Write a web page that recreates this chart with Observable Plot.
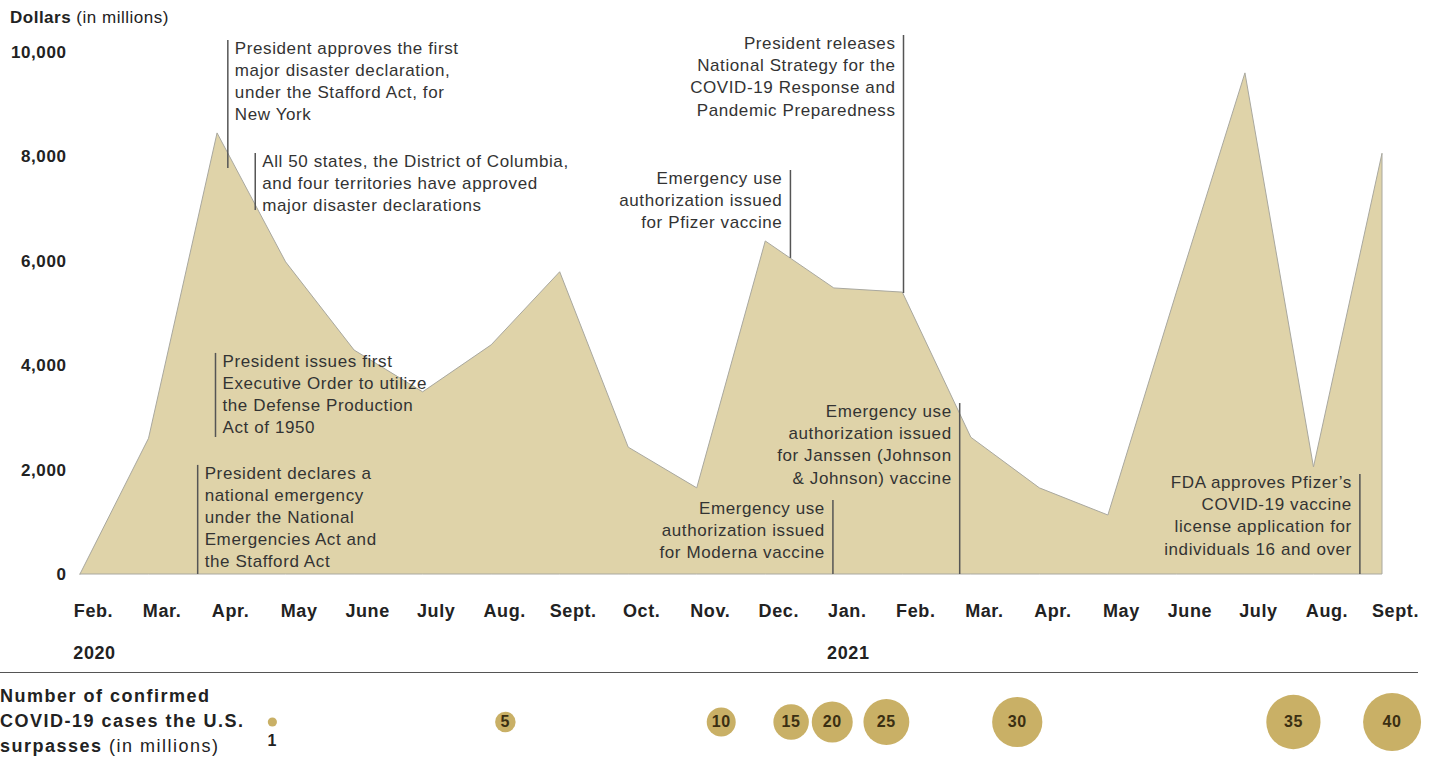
<!DOCTYPE html>
<html>
<head>
<meta charset="utf-8">
<script src="https://cdn.jsdelivr.net/npm/d3@7"></script>
<script src="https://cdn.jsdelivr.net/npm/@observablehq/plot@0.6"></script>
<style>
  body { margin: 0; background: #fff; font-family: "Liberation Sans", Arial, sans-serif; }
  #wrap { position: relative; width: 1432px; height: 763px; overflow: hidden; }
  #main, #bubbles { position: absolute; left: 0; }
  #main { top: 0; }
  #bubbles { top: 680px; }
  #wrap svg text { letter-spacing: 0.6px; }
  #ylab { position: absolute; left: 10px; top: 8px; font-size: 17px; color: #222; letter-spacing: 0.5px; }
  #rule { position: absolute; left: 0; top: 672px; width: 1418px; border-top: 1.5px solid #555; }
  #caseLabel { position: absolute; left: 0; top: 684px; font-size: 18px; line-height: 25px; color: #222; letter-spacing: 1.5px; }
</style>
</head>
<body>
<div id="wrap">
  <div id="main"></div>
  <div id="bubbles"></div>
  <div id="ylab"><b>Dollars</b> (in millions)</div>
  <div id="rule"></div>
  <div id="caseLabel"><b>Number of confirmed<br>COVID-19 cases the U.S.<br>surpasses</b> (in millions)</div>
</div>
<script>
// ---- data ----
const monthLabels = ["Feb.","Mar.","Apr.","May","June","July","Aug.","Sept.","Oct.","Nov.","Dec.","Jan.","Feb.","Mar.","Apr.","May","June","July","Aug.","Sept."];
const spending = [0, 2600, 8450, 5980, 4290, 3490, 4390, 5790, 2430, 1650, 6380, 5480, 5400, 2620, 1650, 1130, 5400, 9600, 2050, 8060];
const yTicks = [0, 2000, 4000, 6000, 8000, 10000];
const yearLabels = ["2020", "2021"];
const yearIdx = [0, 11];

const eventText = [
  "President declares a\nnational emergency\nunder the National\nEmergencies Act and\nthe Stafford Act",
  "President issues first\nExecutive Order to utilize\nthe Defense Production\nAct of 1950",
  "President approves the first\nmajor disaster declaration,\nunder the Stafford Act, for\nNew York",
  "All 50 states, the District of Columbia,\nand four territories have approved\nmajor disaster declarations",
  "Emergency use\nauthorization issued\nfor Pfizer vaccine",
  "President releases\nNational Strategy for the\nCOVID-19 Response and\nPandemic Preparedness",
  "Emergency use\nauthorization issued\nfor Moderna vaccine",
  "Emergency use\nauthorization issued\nfor Janssen (Johnson\n& Johnson) vaccine",
  "FDA approves Pfizer\u2019s\nCOVID-19 vaccine\nlicense application for\nindividuals 16 and over"
];
const eventIdx    = [1.71, 1.97, 2.15, 2.55, 10.36, 12.01, 10.98, 12.83, 18.67];
const eventBottom = [0, 2625, 7780, 6975, 6055, 5385, 0, 0, 0];
const eventTop    = [2090, 4235, 10230, 8065, 7740, 10325, 1420, 3275, 1915];
const eventSide   = ["left","left","left","left","right","right","right","right","right"];

const caseMillions = [1, 5, 10, 15, 20, 25, 30, 35, 40];
const caseIdx = [2.80, 6.20, 9.35, 10.37, 10.97, 11.76, 13.67, 17.70, 19.14];

// ---- tables ----
const spendData = spending.map((v, i) => ({i, v}));
const events = eventText.map((t, k) => ({text: t, x: eventIdx[k], y1: eventBottom[k], y2: eventTop[k], side: eventSide[k]}));
const years = yearLabels.map((label, k) => ({label, i: yearIdx[k]}));
const cases = caseMillions.map((m, k) => ({m, i: caseIdx[k]}));
const monthTicks = monthLabels.map((_, i) => i);
const commaFmt = d3.format(",");

const font = "'Liberation Sans', Arial, sans-serif";

const main = Plot.plot({
  width: 1432, height: 680,
  marginLeft: 80, marginRight: 50, marginTop: 52, marginBottom: 106,
  style: {fontFamily: font, overflow: "visible", background: "transparent", color: "#222"},
  x: {domain: [0, 19]},
  y: {domain: [0, 10000]},
  marks: [
    Plot.areaY(spendData, {x: "i", y: "v", fill: "#dfd3a9", stroke: "#a9a89f", strokeWidth: 1}),
    Plot.ruleX(events, {x: "x", y1: "y1", y2: "y2", stroke: "#555", strokeWidth: 1.5}),
    Plot.text(events, {filter: d => d.side === "left", x: "x", y: "y2", text: "text",
      textAnchor: "start", lineAnchor: "top", dx: 7, dy: -2, fontSize: 17, lineHeight: 1.3, fill: "#333"}),
    Plot.text(events, {filter: d => d.side === "right", x: "x", y: "y2", text: "text",
      textAnchor: "end", lineAnchor: "top", dx: -8, dy: -2, fontSize: 17, lineHeight: 1.3, fill: "#333"}),
    Plot.axisY({ticks: yTicks, tickFormat: d => commaFmt(d), tickSize: 0, tickPadding: 14, fontSize: 17, fontWeight: "bold", label: null}),
    Plot.axisX({ticks: monthTicks, tickFormat: i => monthLabels[i], tickSize: 0, tickPadding: 30, dx: 13,
      fontSize: 18, fontWeight: "bold", label: null}),
    Plot.text(years, {x: "i", text: "label", frameAnchor: "bottom", dy: 84, dx: 14, fontSize: 18, fontWeight: "bold", fill: "#222"})
  ]
});
document.getElementById("main").appendChild(main);

const bub = Plot.plot({
  width: 1432, height: 83,
  marginLeft: 80, marginRight: 50, marginTop: 0, marginBottom: 0,
  style: {fontFamily: font, overflow: "visible", background: "transparent"},
  x: {domain: [0, 19], axis: null},
  r: {domain: [0, 40], range: [0, 29]},
  marks: [
    Plot.dot(cases, {x: "i", r: "m", fill: "#c9b066"}),
    Plot.text(cases, {filter: d => d.m > 1, x: "i", text: d => String(d.m), fontSize: 16, fontWeight: "bold", fill: "#3b2f12"}),
    Plot.text(cases, {filter: d => d.m === 1, x: "i", text: d => String(d.m), dy: 19, fontSize: 16, fontWeight: "bold", fill: "#222"})
  ]
});
document.getElementById("bubbles").appendChild(bub);
</script>
</body>
</html>
